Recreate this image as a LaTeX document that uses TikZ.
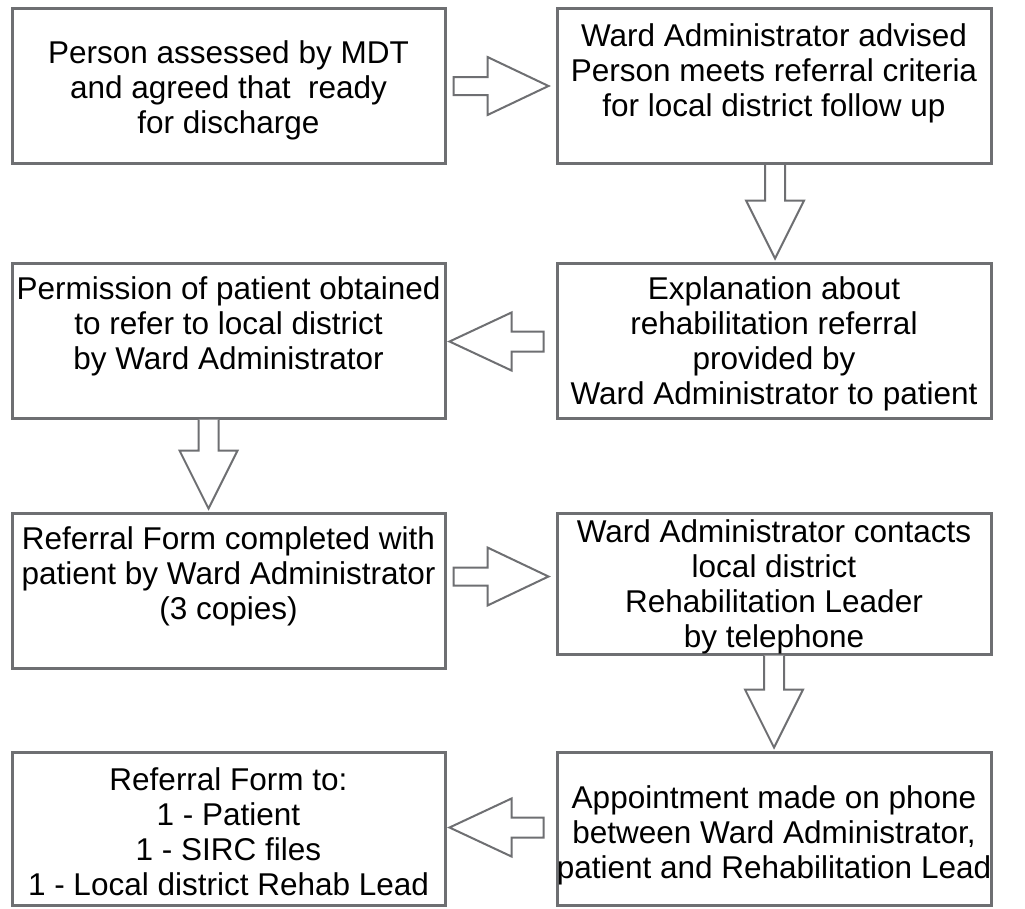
\documentclass[tikz,border=0pt]{standalone}
\usepackage{fontspec}
\setmainfont{Liberation Sans}
\usetikzlibrary{calc}

\definecolor{boxgray}{RGB}{110,111,114}

\tikzset{
	box/.style={draw=boxgray, line width=3pt, minimum width=433pt, minimum height=155pt, inner sep=0pt},
	txt/.style={align=center, font=\fontsize{31.5}{35}\selectfont, inner sep=0pt},
	blockarrow/.style={draw=boxgray, line width=2pt, fill=white, line join=miter}
}

% hollow block arrows, #3 shifts the arrow axis
\newcommand{\rightblock}[3]{%
	\coordinate (s) at ($(#1.east)+(7,#3)$);
	\coordinate (t) at ($(#2.west |- s)+(-7,0)$);
	\draw[blockarrow] ($(s)+(0,-9)$) -- ($(t)+(-61,-9)$) -- ($(t)+(-61,-29)$) -- (t)
		-- ($(t)+(-61,29)$) -- ($(t)+(-61,9)$) -- ($(s)+(0,9)$) -- cycle;}
\newcommand{\leftblock}[3]{%
	\coordinate (s) at ($(#1.west)+(-12,#3)$);
	\coordinate (t) at ($(#2.east |- s)+(3,0)$);
	\draw[blockarrow] ($(s)+(0,-10)$) -- ($(t)+(62,-10)$) -- ($(t)+(62,-29)$) -- (t)
		-- ($(t)+(62,29)$) -- ($(t)+(62,10)$) -- ($(s)+(0,10)$) -- cycle;}
\newcommand{\downblock}[3]{%
	\coordinate (s) at ($(#1.south)+(#3,0)$);
	\coordinate (t) at ($(#2.north -| s)+(0,-3)$);
	\draw[blockarrow] ($(s)+(-10,0)$) -- ($(t)+(-10,-58)$) -- ($(t)+(-29,-58)$) -- (t)
		-- ($(t)+(29,-58)$) -- ($(t)+(10,-58)$) -- ($(s)+(10,0)$);}

\begin{document}
\begin{tikzpicture}[x=1pt,y=-1pt]
	\useasboundingbox (0,0) rectangle (1025,908);
	% draw boxes
	\node[box] (assess) at (228.5,86) {};
	\node[box, minimum width=434pt] (advise) at (774,86) {};
	\node[box] (permit) at (228.5,340.5) {};
	\node[box, minimum width=434pt] (explain) at (774,340.5) {};
	\node[box] (formdone) at (228.5,590.5) {};
	\node[box, minimum width=434pt, minimum height=141pt] (contact) at (774,583.5) {};
	\node[box, minimum height=153pt] (copies) at (228.5,828.5) {};
	\node[box, minimum width=434pt, minimum height=153pt] (appoint) at (774,828.5) {};
	% box texts
	\node[txt] (assess-t) at ($(assess)+(0,4)$) {Person assessed by MDT\\and agreed that\ \ ready\\for discharge};
	\node[txt] (advise-t) at ($(advise)+(0,-13)$) {Ward Administrator advised\\Person meets referral criteria\\for local district follow up};
	\node[txt] (permit-t) at ($(permit)+(0,-14)$) {Permission of patient obtained\\to refer to local district\\by Ward Administrator};
	\node[txt] (explain-t) at ($(explain)+(0,3)$) {Explanation about\\rehabilitation referral\\provided by\\Ward Administrator to patient};
	\node[txt] (formdone-t) at ($(formdone)+(0,-14)$) {Referral Form completed with\\patient by Ward Administrator\\(3 copies)};
	\node[txt] (contact-t) at ($(contact)+(0,3)$) {Ward Administrator contacts\\local district\\Rehabilitation Leader\\by telephone};
	\node[txt] (copies-t) at ($(copies)+(0,3)$) {Referral Form to:\\1 - Patient\\1 - SIRC files\\1 - Local district Rehab Lead};
	\node[txt] (appoint-t) at ($(appoint)+(0,7)$) {Appointment made on phone\\between Ward Administrator,\\patient and Rehabilitation Lead};
	% draw arrows
	\rightblock{assess}{advise}{0}
	\downblock{advise}{explain}{1}
	\leftblock{explain}{permit}{1}
	\downblock{permit}{formdone}{-20}
	\rightblock{formdone}{contact}{-14}
	\downblock{contact}{appoint}{0}
	\leftblock{appoint}{copies}{-1}
\end{tikzpicture}
\end{document}
